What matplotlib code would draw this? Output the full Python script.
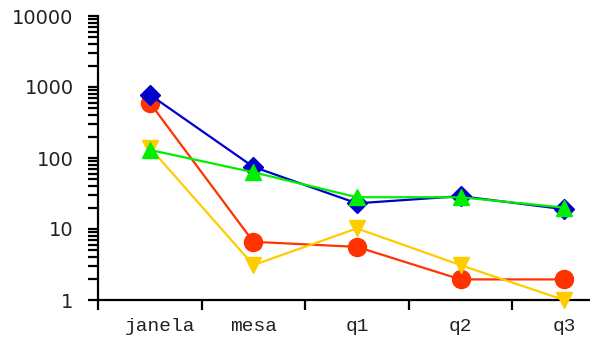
import matplotlib
matplotlib.use('Agg')
import matplotlib.pyplot as plt
import matplotlib.transforms as mtransforms
from matplotlib.ticker import LogLocator, FixedLocator, NullFormatter

categories = ['janela', 'mesa', 'q1', 'q2', 'q3']
red_vals = [600, 6.6, 5.6, 1.95, 1.95]
yellow_vals = [140, 3.1, 10.2, 3.1, 1.0]
blue_vals = [780, 75, 23, 29, 19]
green_vals = [130, 63, 28, 28, 20]

plt.rcParams['font.family'] = ['Liberation Mono', 'DejaVu Sans Mono']

fig = plt.figure(figsize=(5.9, 3.4), dpi=100)
ax = fig.add_axes([98 / 590, 40 / 340, 492 / 590, 284 / 340])

xs = [i + 0.5 for i in range(len(categories))]

ax.plot(xs, red_vals, color='#ff3300', lw=1.6, marker='o', ms=13, clip_on=False, zorder=3)
ax.plot(xs, yellow_vals, color='#ffcc00', lw=1.6, marker='v', ms=12, clip_on=False, zorder=4)
ax.plot(xs, blue_vals, color='#0000cc', lw=1.6, marker='D', ms=10, clip_on=False, zorder=5)
ax.plot(xs, green_vals, color='#00ee00', lw=1.6, marker='^', ms=12, clip_on=False, zorder=6)

ax.set_yscale('log')
ax.set_ylim(1, 10000)
ax.set_xlim(0, 4.75)

for side in ('top', 'right'):
    ax.spines[side].set_visible(False)
for side in ('left', 'bottom'):
    ax.spines[side].set_linewidth(1.6)

ax.yaxis.set_minor_locator(LogLocator(base=10, subs=range(2, 10), numticks=10))
ax.yaxis.set_minor_formatter(NullFormatter())
ax.set_yticks([1, 10, 100, 1000, 10000])
ax.set_yticklabels(['1', '10', '100', '1000', '10000'],
                   fontfamily='DejaVu Sans', color='#222222')
ax.tick_params(axis='y', which='both', direction='out', length=7.5, width=1.6,
               labelsize=14, pad=10)

ax.xaxis.set_major_locator(FixedLocator(range(0, 5)))
ax.set_xticklabels([])
ax.set_xticks(xs, minor=True)
ax.set_xticklabels(categories, minor=True, color='#222222')
ax.tick_params(axis='x', which='major', direction='out', length=7.5, width=1.6)
ax.tick_params(axis='x', which='minor', length=0, labelsize=14, pad=13)

# nudge the first category label a bit to the right
first = ax.get_xticklabels(minor=True)[0]
first.set_transform(first.get_transform() +
                    mtransforms.ScaledTranslation(0.1, 0, fig.dpi_scale_trans))

fig.savefig('out.png', dpi=100)
